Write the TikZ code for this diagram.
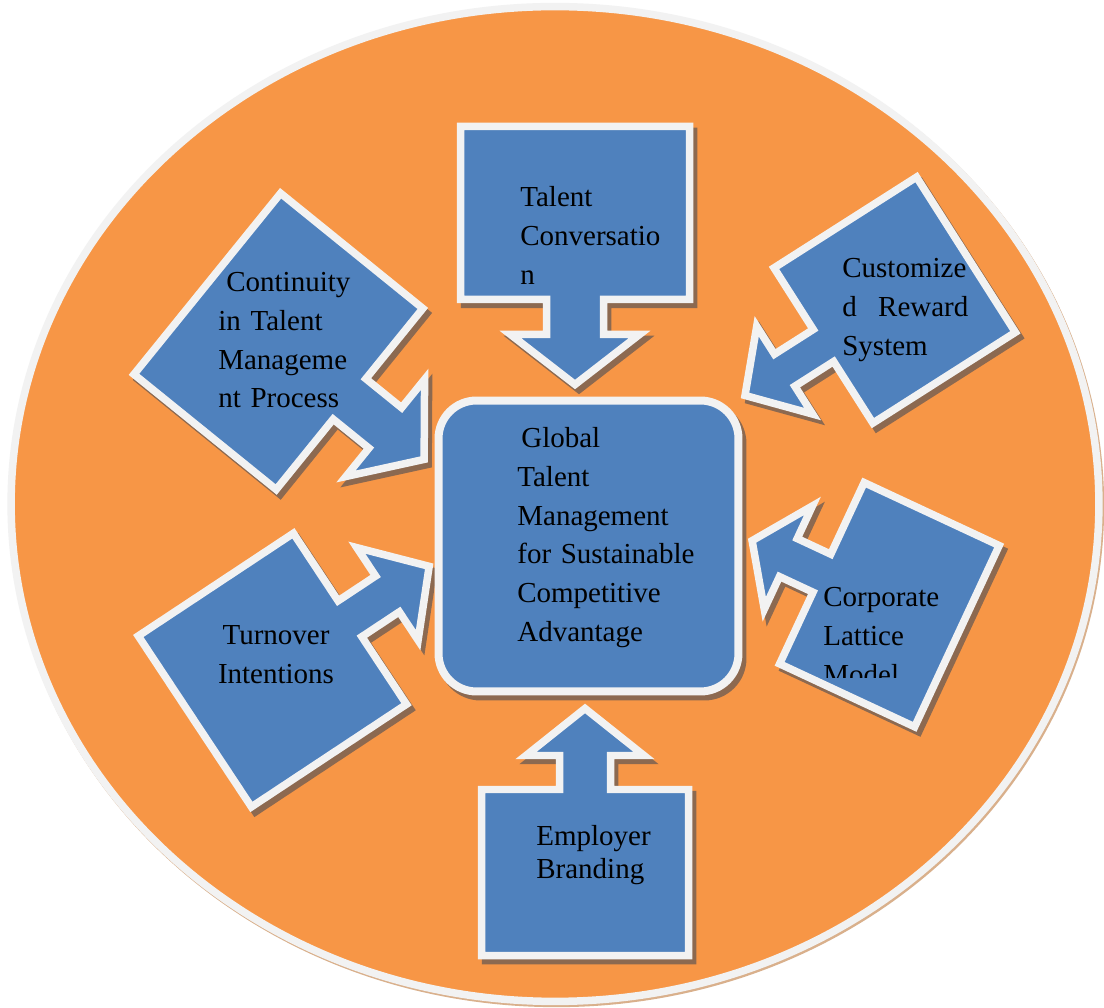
\documentclass[tikz,border=0pt]{standalone}
\usepackage{fontspec}
\setmainfont{Liberation Serif}
\usetikzlibrary{positioning}
\definecolor{ring}{HTML}{F79646}
\definecolor{boxblue}{HTML}{4F81BD}
\definecolor{rim}{HTML}{F2F2F2}
\definecolor{shade}{HTML}{8C6950}
\definecolor{halo}{HTML}{D9B08C}
\tikzset{
  rim line/.style={draw=rim, line width=0.15cm, line join=miter},
  callout/.style={rim line, fill=boxblue},
  callout shadow/.style={draw=shade, fill=shade, line width=0.15cm, line join=miter},
  core box/.style={rim line, fill=boxblue, rounded corners=0.76cm,
    minimum width=6cm, minimum height=5.82cm, inner sep=0pt, line width=0.16cm},
  box text/.style={font=\fontsize{16.5}{22}\selectfont, inner sep=0pt,
    text width=4cm, align=left, anchor=base west},
}
% rotated box with an arrow on one side
% #1 centre, #2 rotation, #3/#4 box width/height,
% #5/#6 shaft width/length, #7/#8 head width/length
\newcommand{\arrowbox}[8]{
    \pgfmathsetmacro{\bw}{#3/2}
    \pgfmathsetmacro{\bh}{#4/2}
    \pgfmathsetmacro{\sw}{#5/2}
    \pgfmathsetmacro{\se}{#4/2+#6}
    \pgfmathsetmacro{\hw}{#7/2}
    \pgfmathsetmacro{\tp}{#4/2+#6+#8}
    \def\outline{(-\bw,\bh) -- (\bw,\bh) -- (\bw,-\bh) -- (\sw,-\bh) -- (\sw,-\se)
        -- (\hw,-\se) -- (0,-\tp) -- (-\hw,-\se) -- (-\sw,-\se) -- (-\sw,-\bh)
        -- (-\bw,-\bh) -- cycle}
    \begin{scope}[shift={(4,-5)}]
      \path[callout shadow,shift={#1},rotate=#2] \outline;
    \end{scope}
    \path[callout,shift={#1},rotate=#2] \outline;
}

\begin{document}
\begin{tikzpicture}[x=0.02cm, y=0.02cm]
    \useasboundingbox[fill=white] (0,0) rectangle (1104,1007);

    % the ring
    \draw[halo, line width=0.15cm] (556.5,501) ellipse [x radius=10.88cm, y radius=9.95cm];
    \draw[rim line, fill=ring] (555,503) ellipse [x radius=10.88cm, y radius=9.95cm];

    % arrows pointing in
    \arrowbox{(575,794)}{0}{229}{173}{57}{35}{129}{50}
    \arrowbox{(585,134.5)}{180}{207}{166}{51}{34}{118}{47}
    \arrowbox{(278.4,665.6)}{51}{233}{183}{52}{46}{125}{50}
    \arrowbox{(894.7,706.9)}{-57.5}{184}{169}{38}{46}{104}{47}
    \arrowbox{(889.4,402.3)}{-115}{200}{149}{42}{37}{114}{40}
    \arrowbox{(272.4,336.9)}{123.5}{205}{186}{43}{45}{111}{50}

    % centre
    \node[core box, draw=shade, fill=shade] (coreshade) at (592.5,456) {};
    \node[core box] (core) at (588.5,461) {};

    \node[box text] (coretext) at (517,559)
        {\hspace*{0.08cm}Global\\Talent\\Management\\for Sustainable\\Competitive\\Advantage};
    \node[box text] (talk) at (520,800) {Talent\\Conversatio\\n};
    \node[box text] (continuity) at (218,715)
        {\hspace*{0.16cm}Continuity\\in Talent\\Manageme\\nt Process};
    \node[box text] (reward) at (842,729)
        {Customize\\\makebox[2.52cm][l]{d\hfill Reward}\\System};
    \node[box text, align=center, anchor=base] (turnover) at (276,362)
        {Turnover\\Intentions};
    \node[box text, font=\fontsize{16.5}{19}\selectfont] (brand) at (536,162)
        {Employer\\Branding};
    \begin{scope}
      \clip (800,329) rectangle (1000,480);
      \node[box text] (lattice) at (823,400) {Corporate\\Lattice\\Model};
    \end{scope}
\end{tikzpicture}
\end{document}
